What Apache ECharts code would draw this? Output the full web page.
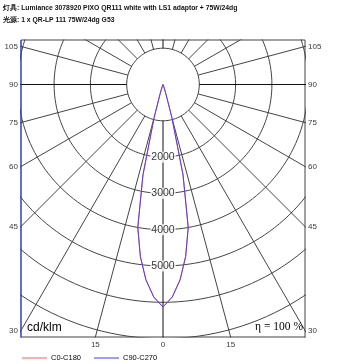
<!DOCTYPE html>
<html><head><meta charset="utf-8">
<script src="https://cdn.jsdelivr.net/npm/echarts@6/dist/echarts.min.js"></script>
<style>html,body{margin:0;padding:0;background:#fff}#c{width:352px;height:364px}</style>
</head><body><div id="c"></div>
<script>
// ---- data ----
const titleLine1 = '灯具: Lumiance 3078920 PIXO QR111 white with LS1 adaptor + 75W/24dg';
const titleLine2 = '光源: 1 x QR-LP 111 75W/24dg G53';
const seriesNames = ['C0-C180', 'C90-C270'];
const gammaDeg = [0, 2.5, 5, 7.5, 10, 12.5, 15, 17.5, 20, 22.5, 25, 30];
const c0c180   = [6130, 5860, 5400, 4780, 4000, 2550, 950, 250, 60, 20, 5, 0];
const c90c270  = [6130, 5860, 5400, 4780, 4000, 2550, 950, 250, 60, 20, 5, 0];
const ringValues = [1000, 2000, 3000, 4000, 5000, 6000, 7000, 8000, 9000];
const ringLabelValues = [2000, 3000, 4000, 5000];
const spokeAngles = [0, 15, 30, 45, 60, 75, 90, 105, 120, 135, 150, 165, 180];
const sideTickAngles = [105, 90, 75, 60, 45, 30];
const bottomTickAngles = [15, 0];
const unitLabel = 'cd/klm';
const effLabel = 'η = 100 %';

// ---- layout ----
const G = {left: 21, top: 40, width: 284, height: 297};
const cx = 142, cy = 44.5;             // center in px inside grid
const k = 1000 / 36.3;                 // cd/klm per px
const xMin = -cx * k, xMax = (G.width - cx) * k;
const yMax = cy * k, yMin = -(G.height - cy) * k;
const rad = d => d * Math.PI / 180;
const pt = (deg, r, side) => [side * r * Math.sin(rad(deg)), -r * Math.cos(rad(deg))];

const gridColor = '#444';
const series = [];

// rings
ringValues.forEach(v => {
  const d = [];
  for (let a = 0; a <= 360; a += 2) d.push([v * Math.sin(rad(a)), v * Math.cos(rad(a))]);
  series.push({type: 'line', data: d, showSymbol: false, silent: true, z: 1,
    lineStyle: {color: gridColor, width: 1}});
});
// spokes
spokeAngles.forEach(a => {
  const sides = (a === 0 || a === 180) ? [1] : [1, -1];
  sides.forEach(s => {
    const dark = (a === 0 || a === 90 || a === 180);
    series.push({type: 'line', data: [pt(a, 1000, s), pt(a, 12000, s)], showSymbol: false, silent: true, z: 1,
      lineStyle: {color: dark ? '#111' : gridColor, width: 1}});
  });
});
// left frame edge (blue)
series.push({type: 'line', data: [[xMin, yMin], [xMin, yMax]], showSymbol: false, silent: true, clip: false, z: 5,
  lineStyle: {color: '#2a3cff', width: 1}});

// ring labels
series.push({type: 'scatter', silent: true, z: 6, symbolSize: 0.1, itemStyle: {color: 'rgba(0,0,0,0)'},
  data: ringLabelValues.map(v => ({value: [0, -v], label: {formatter: String(v)}})),
  label: {show: true, position: 'inside', color: '#000', fontSize: 10.5, fontFamily: 'Liberation Sans',
    backgroundColor: '#fff', padding: [0, 1, 0, 1]}});

// side tick labels
const sideData = [];
sideTickAngles.forEach(a => {
  const t = cx * k / Math.sin(rad(a));
  const y = -Math.cos(rad(a)) * t;
  sideData.push({value: [xMin, y], label: {position: 'left', formatter: String(a)}});
  sideData.push({value: [xMax, y], label: {position: 'right', formatter: String(a)}});
});
bottomTickAngles.forEach(a => {
  const t = yMin / -Math.cos(rad(a));
  const x = Math.sin(rad(a)) * t;
  sideData.push({value: [x, yMin], label: {position: 'bottom', formatter: String(a), distance: 4}});
  if (a !== 0) sideData.push({value: [-x, yMin], label: {position: 'bottom', formatter: String(a), distance: 4}});
});
series.push({type: 'scatter', silent: true, clip: false, z: 6, symbolSize: 0.1, itemStyle: {color: 'rgba(0,0,0,0)'},
  data: sideData,
  label: {show: true, color: '#000', fontSize: 8, fontFamily: 'Liberation Sans', distance: 3}});

// intensity curves
function curve(vals) {
  const d = [];
  for (let i = gammaDeg.length - 1; i >= 0; i--) d.push(pt(gammaDeg[i], vals[i], -1));
  for (let i = 1; i < gammaDeg.length; i++) d.push(pt(gammaDeg[i], vals[i], 1));
  return d;
}
series.push({name: seriesNames[0], type: 'line', data: curve(c0c180), showSymbol: false, symbol: 'none', z: 8,
  lineStyle: {color: '#ff5a5a', width: 1}, itemStyle: {color: '#ff5a5a'}});
series.push({name: seriesNames[1], type: 'line', data: curve(c90c270), showSymbol: false, symbol: 'none', z: 9,
  lineStyle: {color: '#3a3aff', width: 1, opacity: 0.9}, itemStyle: {color: '#3a3aff'}});

const chart = echarts.init(document.getElementById('c'), null, {renderer: 'canvas'});
chart.setOption({
  animation: false,
  backgroundColor: '#fff',
  grid: Object.assign({show: true, borderColor: '#444', borderWidth: 1, backgroundColor: 'transparent'}, G),
  xAxis: {type: 'value', min: xMin, max: xMax, show: false},
  yAxis: {type: 'value', min: yMin, max: yMax, show: false},
  legend: {data: seriesNames, left: 22, top: 354, icon: 'rect', itemWidth: 25, itemHeight: 1, itemGap: 13,
    textStyle: {fontSize: 7.5, fontFamily: 'Liberation Sans', color: '#000', padding: [0, 0, 0, -1]}, padding: 0},
  graphic: [
    {type: 'text', left: 3, top: 5, style: {text: titleLine1, fontSize: 6.8, fontWeight: 'bold', fontFamily: 'Liberation Sans', fill: '#111'}},
    {type: 'text', left: 3, top: 17, style: {text: titleLine2, fontSize: 6.8, fontWeight: 'bold', fontFamily: 'Liberation Sans', fill: '#111'}},
    {type: 'text', left: 27, top: 322, z: 10, style: {text: unitLabel, fontSize: 12, fontFamily: 'Liberation Sans', fill: '#000'}},
    {type: 'text', right: 49, top: 321, z: 10, style: {text: effLabel, fontSize: 11.5, fontFamily: 'Liberation Serif', fill: '#000'}}
  ],
  series: series
});
</script></body></html>
